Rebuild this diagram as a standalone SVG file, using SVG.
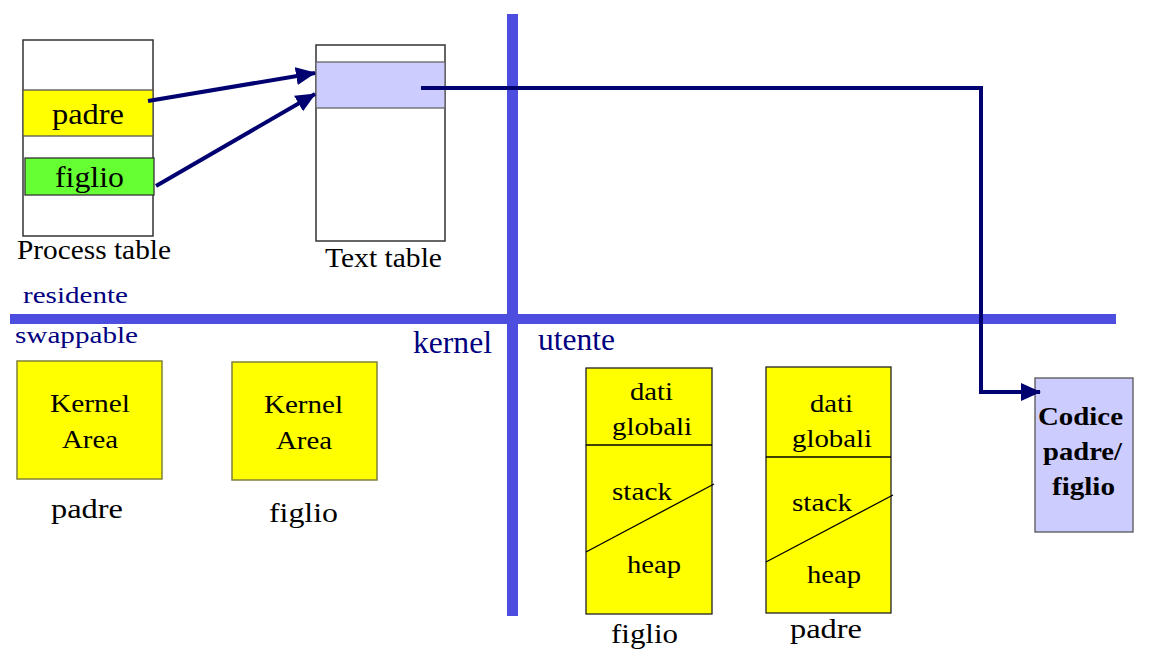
<svg xmlns="http://www.w3.org/2000/svg" width="1169" height="654" viewBox="0 0 1169 654">
<style>
text{font-family:'Liberation Serif','Tinos','DejaVu Serif','Times New Roman',serif;fill:#000}
.n{fill:#000080}
.b{font-weight:bold}
.band{fill:#4d4de0}
.ka{fill:#ffff00;stroke:#80803a;stroke-width:1.5}
.ub{fill:#ffff00;stroke:#222;stroke-width:1.3}
.sep{stroke:#000;stroke-width:1.3;fill:none}
.conn{stroke:#000070;stroke-width:4;fill:none}
</style>
<defs>
<marker id="ah" markerUnits="userSpaceOnUse" markerWidth="20" markerHeight="20" viewBox="0 0 20 20" refX="19" refY="10" orient="auto">
<path d="M0,1 L20,10 L0,19 Z" fill="#000070"/>
</marker>
</defs>
<rect width="1169" height="654" fill="#fff"/>

<g id="bands">
<rect class="band" x="507" y="14" width="11" height="602"/>
<rect class="band" x="10" y="314" width="1106" height="10"/>
</g>

<g id="process-table" font-family="Liberation Serif, serif">
<rect x="23" y="40" width="130" height="196" fill="#fff" stroke="#333" stroke-width="1.5"/>
<rect x="23" y="90" width="130" height="46" fill="#ffff00" stroke="#555" stroke-width="1.3"/>
<rect x="25" y="158" width="129" height="37" fill="#66ff33" stroke="#333" stroke-width="1.3"/>
<text x="52" y="124" font-size="29" textLength="72" lengthAdjust="spacingAndGlyphs">padre</text>
<text x="55" y="187" font-size="29" textLength="69" lengthAdjust="spacingAndGlyphs">figlio</text>
<text x="17" y="259" font-size="28" textLength="154" lengthAdjust="spacingAndGlyphs">Process table</text>
</g>

<g id="text-table">
<rect x="316" y="45" width="129" height="196" fill="#fff" stroke="#333" stroke-width="1.5"/>
<rect x="316" y="62" width="129" height="46" fill="#ccccff" stroke="#666" stroke-width="1.3"/>
<text x="325" y="267" font-size="28" textLength="117" lengthAdjust="spacingAndGlyphs">Text table</text>
</g>

<g id="labels">
<text class="n" x="23" y="303" font-size="24" textLength="105" lengthAdjust="spacingAndGlyphs">residente</text>
<text class="n" x="15" y="343" font-size="24" textLength="123" lengthAdjust="spacingAndGlyphs">swappable</text>
<text class="n" x="413" y="353" font-size="31" textLength="79" lengthAdjust="spacingAndGlyphs">kernel</text>
<text class="n" x="538" y="350" font-size="31" textLength="77" lengthAdjust="spacingAndGlyphs">utente</text>
</g>

<g id="kernel-area-padre">
<rect class="ka" x="17" y="361" width="145" height="118"/>
<text x="50" y="412" font-size="26" textLength="80" lengthAdjust="spacingAndGlyphs">Kernel</text>
<text x="62" y="448" font-size="26" textLength="56" lengthAdjust="spacingAndGlyphs">Area</text>
<text x="51" y="518" font-size="28" textLength="72" lengthAdjust="spacingAndGlyphs">padre</text>
</g>

<g id="kernel-area-figlio">
<rect class="ka" x="232" y="362" width="145" height="118"/>
<text x="264" y="413" font-size="26" textLength="79" lengthAdjust="spacingAndGlyphs">Kernel</text>
<text x="276" y="449" font-size="26" textLength="56" lengthAdjust="spacingAndGlyphs">Area</text>
<text x="269" y="522" font-size="28" textLength="69" lengthAdjust="spacingAndGlyphs">figlio</text>
</g>

<g id="user-figlio">
<rect class="ub" x="586" y="368" width="126" height="246"/>
<line class="sep" x1="586" y1="445" x2="712" y2="445"/>
<line class="sep" x1="586" y1="552" x2="714" y2="484"/>
<text x="630" y="400" font-size="26" textLength="43" lengthAdjust="spacingAndGlyphs">dati</text>
<text x="612" y="435" font-size="26" textLength="80" lengthAdjust="spacingAndGlyphs">globali</text>
<text x="612" y="500" font-size="26" textLength="60" lengthAdjust="spacingAndGlyphs">stack</text>
<text x="627" y="573" font-size="26" textLength="54" lengthAdjust="spacingAndGlyphs">heap</text>
<text x="611" y="643" font-size="28" textLength="67" lengthAdjust="spacingAndGlyphs">figlio</text>
</g>

<g id="user-padre">
<rect class="ub" x="766" y="367" width="125" height="246"/>
<line class="sep" x1="766" y1="457" x2="891" y2="457"/>
<line class="sep" x1="766" y1="562" x2="893" y2="495"/>
<text x="810" y="412" font-size="26" textLength="43" lengthAdjust="spacingAndGlyphs">dati</text>
<text x="792" y="447" font-size="26" textLength="80" lengthAdjust="spacingAndGlyphs">globali</text>
<text x="792" y="511" font-size="26" textLength="60" lengthAdjust="spacingAndGlyphs">stack</text>
<text x="807" y="583" font-size="26" textLength="54" lengthAdjust="spacingAndGlyphs">heap</text>
<text x="790" y="638" font-size="28" textLength="72" lengthAdjust="spacingAndGlyphs">padre</text>
</g>

<g id="codice">
<rect x="1035" y="378" width="98" height="154" fill="#ccccff" stroke="#555" stroke-width="1.3"/>
<text class="b" x="1038" y="425" font-size="26" textLength="85" lengthAdjust="spacingAndGlyphs">Codice</text>
<text class="b" x="1043" y="460" font-size="26" textLength="79" lengthAdjust="spacingAndGlyphs">padre/</text>
<text class="b" x="1052" y="495" font-size="26" textLength="63" lengthAdjust="spacingAndGlyphs">figlio</text>
</g>

<g id="connectors">
<line class="conn" x1="148" y1="101" x2="315" y2="73" marker-end="url(#ah)"/>
<line class="conn" x1="156" y1="186" x2="315" y2="94" marker-end="url(#ah)"/>
<polyline class="conn" points="421,88 981,88 981,392 1040,392" marker-end="url(#ah)"/>
</g>
</svg>
